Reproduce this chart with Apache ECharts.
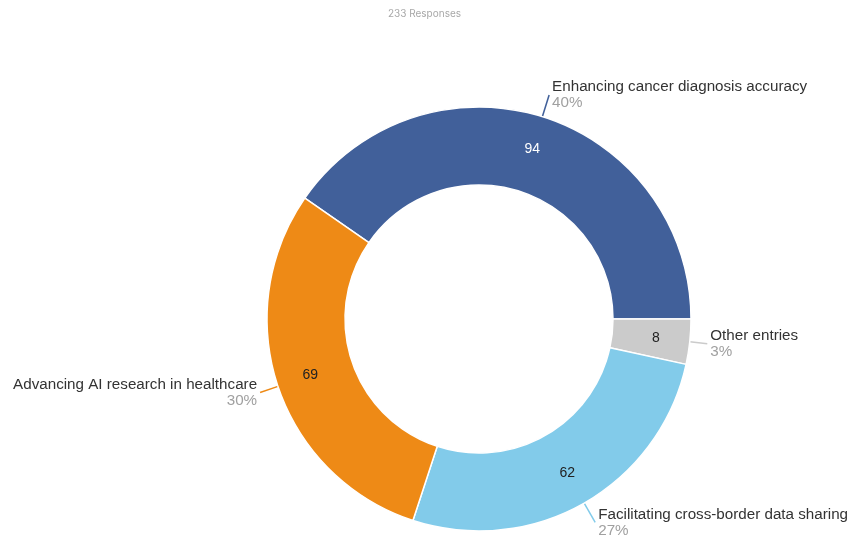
<!DOCTYPE html>
<html>
<head>
<meta charset="utf-8">
<script src="https://cdn.jsdelivr.net/npm/echarts@6/dist/echarts.min.js"></script>
<style>
  html, body { margin: 0; padding: 0; background: #ffffff; }
  #chart { width: 849px; height: 537px; }
</style>
</head>
<body>
<div id="chart"></div>
<script>
// Survey answers, in drawing order (clockwise from the 3 o'clock position backwards)
const categories = [
  'Enhancing cancer diagnosis accuracy',
  'Other entries',
  'Facilitating cross-border data sharing',
  'Advancing AI research in healthcare'
];
const responses = [94, 8, 62, 69];
const sliceColors = ['#41609A', '#CBCBCB', '#82CBEA', '#EE8A16'];
const valueColors = ['#ffffff', '#222222', '#222222', '#222222'];
const titleText = '233 Responses';

const total = responses.reduce((a, b) => a + b, 0);
// first slice ends exactly at 3 o'clock
const startAngle = responses[0] / total * 360;

const center = [479, 319];
const radius = [134, 212];
const FONT = 'Liberation Sans, Arial, sans-serif';

// leader lines get a little longer for slices pointing up or down,
// so the two-line labels clear the ring
let acc = 0;
const leaderLengths = responses.map(v => {
  const mid = startAngle - (acc + v / 2) / total * 360;
  acc += v;
  return 17 + 6 * Math.abs(Math.sin(mid * Math.PI / 180));
});

const chart = echarts.init(document.getElementById('chart'), null, { renderer: 'canvas' });

const ringData = categories.map((name, i) => ({
  name: name,
  value: responses[i],
  itemStyle: { color: sliceColors[i] }
}));

const valueData = categories.map((name, i) => ({
  name: name,
  value: responses[i],
  itemStyle: { color: 'rgba(0,0,0,0)' },
  label: { color: valueColors[i] }
}));

const outerData = categories.map((name, i) => ({
  name: name,
  value: responses[i],
  itemStyle: { color: 'rgba(0,0,0,0)' },
  labelLine: { length: leaderLengths[i], lineStyle: { color: sliceColors[i] } }
}));

const common = {
  type: 'pie',
  center: center,
  startAngle: startAngle,
  clockwise: true,
  avoidLabelOverlap: false,
  emphasis: { disabled: true }
};

chart.setOption({
  animation: false,
  title: {
    text: titleText,
    left: 'center',
    top: 4,
    textStyle: {
      fontFamily: 'Inter',
      fontSize: 10,
      fontWeight: 'normal',
      color: '#A8A8A8'
    }
  },
  series: [
    // the donut ring itself
    Object.assign({}, common, {
      radius: radius,
      itemStyle: { borderColor: '#ffffff', borderWidth: 1.5 },
      label: { show: false },
      labelLine: { show: false },
      data: ringData
    }),
    // response counts written on the ring
    Object.assign({}, common, {
      radius: [134, 216],
      silent: true,
      itemStyle: { borderWidth: 0 },
      label: {
        show: true,
        position: 'inside',
        formatter: '{c}',
        fontFamily: FONT,
        fontSize: 14
      },
      labelLine: { show: false },
      data: valueData
    }),
    // category names and shares outside the ring
    Object.assign({}, common, {
      radius: radius,
      silent: true,
      percentPrecision: 0,
      itemStyle: { borderWidth: 0 },
      label: {
        show: true,
        position: 'outside',
        distanceToLabelLine: 3,
        formatter: '{n|{b}}\n{p|{d}%}',
        rich: {
          n: { fontFamily: FONT, fontSize: 15.2, color: '#333333', lineHeight: 16 },
          p: { fontFamily: FONT, fontSize: 15.2, color: '#A0A0A0', lineHeight: 16 }
        }
      },
      labelLine: {
        show: true,
        length: 17,
        length2: 0,
        lineStyle: { width: 1.5 }
      },
      data: outerData
    })
  ]
});
</script>
</body>
</html>
